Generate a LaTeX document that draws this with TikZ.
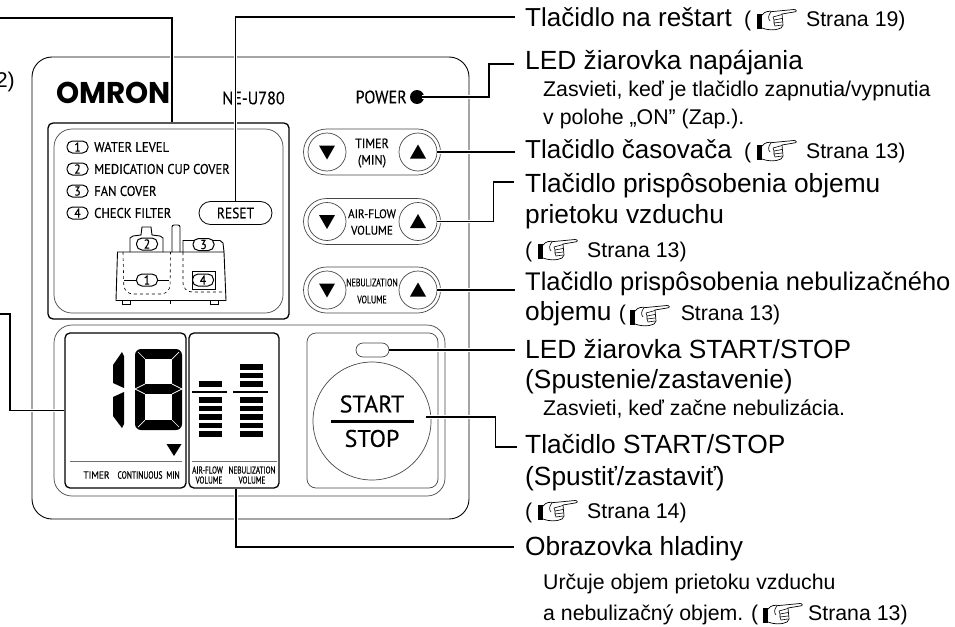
\documentclass[tikz,border=0pt]{standalone}
\usepackage{fontspec}
\setmainfont{Liberation Sans}
\newfontfamily\dinfont[FakeStretch=0.9,FakeBold=0.35]{PT Sans}
\newfontfamily\narrowfont[FakeStretch=0.72,FakeBold=0.35]{PT Sans}
\newfontfamily\startfont[FakeBold=0.3]{PT Sans}
\newfontfamily\logofont[FakeStretch=0.98]{Poppins Bold}
\usetikzlibrary{calc}
\definecolor{PanelGray}{RGB}{70,70,70}
\definecolor{RuleGray}{RGB}{110,110,110}
\newcommand{\dinsize}[1]{\dinfont\fontsize{#1}{#1}\selectfont}
\newcommand{\narrowsize}[1]{\narrowfont\fontsize{#1}{#1}\selectfont}
\newcommand{\notefont}{\fontsize{21.3}{25}\selectfont}

\begin{document}
\begin{tikzpicture}[x=1pt,y=-1pt,
 biglabel/.style={anchor=base west,inner sep=0pt,font=\fontsize{26.3}{30}\selectfont},
 smalllabel/.style={anchor=base west,inner sep=0pt,font=\notefont},
 lead/.style={draw=black,line width=1.2pt,preaction={draw=white,line width=3.2pt}},
 thinline/.style={draw=PanelGray,line width=0.7pt},
 heavybox/.style={draw=black,line width=1.3pt,rounded corners=5pt,inner sep=0pt},
 numpill/.style={draw=black,line width=1pt,rounded corners=5.5pt,minimum width=21pt,minimum height=12pt,
  inner sep=0pt,font=\dinsize{13}},
 panelword/.style={anchor=west,inner sep=0pt,font=\dinsize{14}},
 btnpill/.style={thinline,rounded corners=23pt,minimum width=137pt,minimum height=46pt,inner sep=0pt},
 btncircle/.style={thinline,circle,minimum size=38pt,inner sep=0pt},
 bar/.style={fill=black,minimum width=23pt,minimum height=5.6pt,inner sep=0pt},
 handicon/.pic={
  \fill[black] (0,5) rectangle (5,20);
  \draw[black,line width=0.7pt,fill=white] (5,6) .. controls (8,2) and (12,2) .. (16,2.5) -- (37,0.5)
   .. controls (40,0.5) and (40,3) .. (37,3) -- (25,5) -- (26,16) -- (24,19) .. controls (18,22) and (10,21) .. (5,19);
  \draw[black,line width=0.6pt] (14,3) .. controls (11,6) and (11,10) .. (13,12) (16,8) -- (25,5.5)
   (16,8) -- (17,11) -- (25,9.5) (17,11) -- (17,14) -- (25,13) (17,14) -- (18,17) -- (25,16);
 }]
\useasboundingbox (0,0) rectangle (955,626);

\draw[draw=black,line width=0.9pt,rounded corners=20pt] (32,57) rectangle (469,519);
\node[inner sep=0pt,font=\logofont\fontsize{30}{30}\selectfont] (logo) at (113.5,92.5) {OMRON};
\node[inner sep=0pt,font=\dinsize{18}] (model) at (253.5,98) {NE-U780};
\node[anchor=east,inner sep=0pt,font=\dinsize{18}] (powerword) at (407,97) {POWER};
\node[circle,fill=black,minimum size=14pt,inner sep=0pt] (powerled) at (417,97) {};
\node[anchor=base east,inner sep=0pt,font=\notefont] (cutoff) at (15,87) {2)};

\node[heavybox,minimum width=241pt,minimum height=196pt] (alarmbox) at (168.5,221) {};
\draw[thinline,rounded corners=18pt] (54,129) rectangle (283,313);
\foreach \num/\y/\word in {1/147/WATER LEVEL,2/169/MEDICATION CUP COVER,3/191/FAN COVER,4/213/CHECK FILTER}{
 \node[numpill] (leg\num) at (77.5,\y) {\num};
 \node[panelword] (legword\num) at (94,\y) {\word};
}
\node[draw=black,line width=0.8pt,rounded corners=11.5pt,minimum width=73pt,minimum height=23pt,inner sep=0pt,
 font=\dinsize{15}] (resetbtn) at (235.5,213) {RESET};

\draw[draw=black,line width=0.9pt] (117.5,252) -- (116,300.5) -- (226,300.5) -- (224,252) -- cycle;
\draw[draw=black,line width=0.9pt] (130,252) -- (130,238) -- (133,236) -- (141,235) -- (142,227) -- (151,227)
 -- (152,235) -- (160,236) -- (163,238) -- (163,252);
\draw[draw=black,line width=0.9pt,rounded corners=2pt] (172,252) -- (172,225) -- (180,225) -- (180,252);
\draw[draw=black,line width=0.9pt] (183,252) -- (183,240.5) -- (220,240.5) -- (223,243) -- (224,252);
\draw[draw=black,line width=0.6pt] (170.5,300.5) -- (170.5,304);
\draw[draw=black,line width=0.7pt] (122,300.5) rectangle (130,304.5);
\draw[draw=black,line width=0.7pt] (210,300.5) rectangle (218,304.5);
\draw[draw=black,line width=0.6pt,dashed,rounded corners=9pt] (123,252) -- (124,294) -- (170,294) -- (170.5,252);
\draw[draw=black,line width=0.6pt,dashed,rounded corners=9pt] (183,252) -- (183,292) -- (224,292);
\draw[draw=black,line width=0.7pt] (192,271) rectangle (215,289);
\node[numpill,fill=white] (cup2) at (147,244) {2};
\node[numpill,fill=white] (cup3) at (203.5,244.5) {3};
\node[numpill,fill=white] (tank1) at (147,280) {1};
\node[numpill,fill=white] (tank4) at (203,280) {4};
\draw[draw=black,line width=0.7pt] (tank1.west) -- (124,280);
\draw[draw=black,line width=0.7pt] (tank1.east) -- (169,280);

\foreach \btn/\y in {timer/152,air/221.5,neb/290}{
 \node[btnpill] (\btn pill) at (372,\y) {};
 \node[btncircle] (\btn down) at (327,\y) {};
 \node[btncircle] (\btn up) at (418,\y) {};
 \fill[black] ($(\btn down)+(-8,-6.5)$) -- ($(\btn down)+(8,-6.5)$) -- ($(\btn down)+(0,7.5)$) -- cycle;
 \fill[black] ($(\btn up)+(-8,6.5)$) -- ($(\btn up)+(8,6.5)$) -- ($(\btn up)+(0,-7.5)$) -- cycle;
}
\node[inner sep=0pt,align=center,font=\dinsize{13.5}] (timerword) at (372,153) {TIMER\\[3pt](MIN)};
\node[inner sep=0pt,align=center,font=\dinsize{12.5}] (airword) at (372,222) {AIR-FLOW\\[4pt]VOLUME};
\node[inner sep=0pt,align=center,font=\narrowsize{11}] (nebword) at (372,291) {NEBULIZATION\\[6pt]VOLUME};

\draw[thinline,rounded corners=18pt] (54,325) rectangle (445,496);
\node[heavybox,minimum width=121pt,minimum height=155pt] (timerscreen) at (125.5,410.5) {};
\node[heavybox,minimum width=90pt,minimum height=155pt] (levelscreen) at (234,410.5) {};
\draw[thinline,rounded corners=9pt] (307,333) rectangle (438,488);
\node[thinline,rounded corners=7pt,minimum width=33pt,minimum height=14pt,inner sep=0pt] (startled) at (372.5,350) {};
\node[thinline,circle,minimum size=118pt,inner sep=0pt] (startbtn) at (372,421) {};
\node[inner sep=0pt,font=\startfont\fontsize{24}{24}\selectfont] (startword) at (372,404) {START};
\node[inner sep=0pt,font=\startfont\fontsize{24}{24}\selectfont] (stopword) at (372,438.5) {STOP};
\draw[draw=black,line width=3pt] (331,421) -- (414,421);

\fill[black] (122,352) -- (124,356) -- (124,388) -- (113,383) -- (113,365) -- cycle;
\fill[black] (124,392) -- (113,397) -- (113,416) -- (122,428) -- (124,424) -- cycle;
\fill[black,rounded corners=6pt] (135,349) rectangle (182,430);
\fill[white] (145,359) rectangle (172,384);
\fill[white] (145,394) rectangle (172,420);
\foreach \ax/\ay/\bx/\by in {135/389/145/384,135/389/145/394,182/389/172/384,182/389/172/394,
 138/352/145/359,179/352/172/359,138/427/145/420,179/427/172/420}{
 \draw[white,line width=0.7pt] (\ax,\ay) -- (\bx,\by);
}
\fill[black] (166.5,444) -- (181.5,444) -- (174,456) -- cycle;
\draw[draw=RuleGray,line width=0.8pt] (70,461) -- (182,461);
\node[inner sep=0pt,font=\dinsize{10.5}] (timerlabel) at (96.5,475) {TIMER};
\node[inner sep=0pt,font=\narrowsize{10.5}] (contlabel) at (140,475) {CONTINUOUS};
\node[inner sep=0pt,font=\narrowsize{10.5}] (minlabel) at (173,475) {MIN};

\foreach \y in {384,400,408.4,417,425.5,434}{
 \node[bar] at (210.5,\y) {};
}
\foreach \y in {367,375.4,384,400,408.4,417,425.5,434}{
 \node[bar] at (251.5,\y) {};
}
\draw[draw=black,line width=2.4pt] (192,392) -- (227,392);
\draw[draw=black,line width=2.4pt] (233,392) -- (268,392);
\draw[draw=RuleGray,line width=0.8pt] (192,461) -- (277,461);
\node[inner sep=0pt,font=\narrowsize{10}] (airlabel) at (207.5,470) {AIR-FLOW};
\node[inner sep=0pt,font=\narrowsize{10}] (neblabel) at (252,470) {NEBULIZATION};
\node[inner sep=0pt,font=\narrowsize{10}] (airvol) at (209,480) {VOLUME};
\node[inner sep=0pt,font=\narrowsize{10}] (nebvol) at (252,480) {VOLUME};

\node[biglabel,font=\fontsize{26}{30}\selectfont] (lblreset) at (525,27) {Tlačidlo na reštart\hspace{5pt} {\notefont( \hspace{49pt}Strana 19)}};
\node[biglabel] (lblpower) at (525,69.5) {LED žiarovka napájania};
\node[smalllabel] (lblpowera) at (543,96) {Zasvieti, keď je tlačidlo zapnutia/vypnutia};
\node[smalllabel] (lblpowerb) at (543,124) {v polohe „ON” (Zap.).};
\node[biglabel,font=\fontsize{26}{30}\selectfont] (lbltimer) at (525,158.5) {Tlačidlo časovača\hspace{5pt} {\notefont( \hspace{49pt}Strana 13)}};
\node[biglabel] (lblair) at (525,192) {Tlačidlo prispôsobenia objemu};
\node[biglabel] (lblaira) at (525,223) {prietoku vzduchu};
\node[smalllabel] (lblairb) at (525,257) {( \hspace{49pt}Strana 13)};
\node[biglabel,font=\fontsize{25.5}{30}\selectfont] (lblneb) at (525,290) {Tlačidlo prispôsobenia nebulizačného};
\node[biglabel] (lblneba) at (525,320) {objemu {\notefont( \hspace{49pt}Strana 13)}};
\node[biglabel] (lblled) at (525,358) {LED žiarovka START/STOP};
\node[biglabel] (lblleda) at (525,388) {(Spustenie/zastavenie)};
\node[smalllabel] (lbledb) at (543,415) {Zasvieti, keď začne nebulizácia.};
\node[biglabel] (lblstop) at (525,453) {Tlačidlo START/STOP};
\node[biglabel] (lblstopa) at (525,485) {(Spustiť/zastaviť)};
\node[smalllabel] (lblstopb) at (525,518) {( \hspace{49pt}Strana 14)};
\node[biglabel] (lbllevel) at (525,555) {Obrazovka hladiny};
\node[smalllabel] (lbllevela) at (543,589) {Určuje objem prietoku vzduchu};
\node[smalllabel] (lbllevelb) at (543,620) {a nebulizačný objem. ( \hspace{44pt}Strana 13)};

\pic at (757,9) {handicon};
\pic at (757,140) {handicon};
\pic at (538,239) {handicon};
\pic at (630,305) {handicon};
\pic at (538,500) {handicon};
\pic at (763,603) {handicon};

\coordinate (alarmfree) at (0,18);
\coordinate (timerfree) at (0,314);
\coordinate (resettip) at (515,17);
\coordinate (powertip) at (514,64);
\coordinate (timertip) at (515,152);
\coordinate (airtip) at (514,182);
\coordinate (nebtip) at (515,290);
\coordinate (ledtip) at (515,350);
\coordinate (stoptip) at (517,447);
\coordinate (leveltip) at (514,547);
\draw[lead] (alarmfree) -| ([xshift=3.5pt]alarmbox.north);
\draw[lead] (timerfree) -- ++(10,0) |- (timerscreen.west);
\draw[lead] (resettip) -| (resetbtn.north);
\draw[lead] ([xshift=5pt]powerled.center) -- ++(67,0) |- (powertip);
\draw[lead] (timerup.east) -- (timertip);
\draw[lead] (airup.east) -- ++(56,0) |- (airtip);
\draw[lead] (nebup.east) -- (nebtip);
\draw[lead] (startled.east) -- (ledtip);
\draw[lead] ([xshift=-5pt,yshift=4pt]startbtn.east) -- ++(69,0) |- (stoptip);
\draw[lead] ([xshift=2pt]levelscreen.south) |- (leveltip);
\end{tikzpicture}
\end{document}
